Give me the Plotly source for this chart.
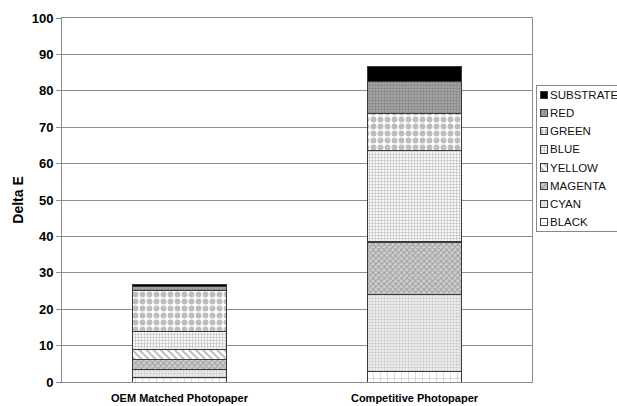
import plotly.graph_objects as go

categories = ["OEM Matched Photopaper", "Competitive Photopaper"]

black = [1.3, 2.8]
cyan = [2.2, 21.2]
magenta = [2.7, 14.2]
yellow = [2.6, 0.5]
blue = [5.2, 25.0]
green = [11.2, 10.2]
red = [1.1, 8.6]
substrate = [0.6, 4.3]

series = [
    ("BLACK", black, dict(shape="+", fgcolor="#7a7a7a", bgcolor="white", size=7, solidity=0.15)),
    ("CYAN", cyan, dict(shape=".", fgcolor="#a0a0a0", bgcolor="#ededed", size=3, solidity=0.4)),
    ("MAGENTA", magenta, dict(shape="x", fgcolor="#6e6e6e", bgcolor="#cfcfcf", size=4, solidity=0.45)),
    ("YELLOW", yellow, dict(shape="\\", fgcolor="#707070", bgcolor="white", size=5, solidity=0.4)),
    ("BLUE", blue, dict(shape="+", fgcolor="#7e7e7e", bgcolor="#f7f7f7", size=3, solidity=0.35)),
    ("GREEN", green, dict(shape=".", fgcolor="#7c7c7c", bgcolor="white", size=7, solidity=0.55)),
    ("RED", red, dict(shape=".", fgcolor="#666666", bgcolor="#aaaaaa", size=3, solidity=0.5)),
    ("SUBSTRATE", substrate, dict(shape="", fgcolor="black", bgcolor="black")),
]

FONT = "Liberation Sans, Arial, sans-serif"


def bar_marker(pat):
    marker = dict(line=dict(color="#3a3a3a", width=1))
    if pat["shape"]:
        marker["color"] = pat["bgcolor"]
        marker["pattern"] = pat
    else:
        marker["color"] = "black"
    return marker


fig = go.Figure()

# stacked columns
for name, vals, pat in series:
    fig.add_trace(go.Bar(name=name, x=categories, y=vals, marker=bar_marker(pat),
                         width=0.4, showlegend=False))

# legend box: small patterned keys on their own axes, labels beside them
annotations = []
for i, (name, vals, pat) in enumerate(series):
    fig.add_trace(go.Bar(
        x=[7], y=[i], base=[3], orientation="h", width=0.4,
        marker=bar_marker(pat), xaxis="x2", yaxis="y2",
        showlegend=False, hoverinfo="skip",
    ))
    annotations.append(dict(
        x=11, y=i, xref="x2", yref="y2", text=name, showarrow=False,
        xanchor="left", yanchor="middle",
        font=dict(size=11.5, family=FONT, color="#111111"),
    ))

plot_w = 470
paper_w = 617 - 62
legend_left = 537 - 62

fig.update_layout(
    barmode="stack",
    width=617,
    height=406,
    margin=dict(l=62, r=0, t=18, b=24, autoexpand=False),
    paper_bgcolor="white",
    plot_bgcolor="white",
    font=dict(family=FONT, color="black"),
    showlegend=False,
    annotations=annotations,
    yaxis=dict(
        range=[0, 100],
        dtick=10,
        showgrid=True,
        gridcolor="#8c8c8c",
        gridwidth=1,
        showline=True,
        linecolor="#8c8c8c",
        mirror=True,
        ticks="outside",
        ticklen=5,
        tickcolor="#8c8c8c",
        tickfont=dict(size=13, family=FONT, weight="bold"),
        title=dict(text="<b>Delta E</b>", font=dict(size=14), standoff=4),
        zeroline=False,
    ),
    xaxis=dict(
        domain=[0, plot_w / paper_w],
        showline=True,
        linecolor="#8c8c8c",
        mirror=True,
        ticks="",
        ticklabelstandoff=6,
        tickfont=dict(size=11, family=FONT, weight="bold"),
    ),
    xaxis2=dict(
        domain=[legend_left / paper_w, 1],
        range=[0, 80],
        anchor="y2",
        showgrid=False, zeroline=False, showticklabels=False, ticks="",
        showline=True, mirror=True, linecolor="#888888",
        fixedrange=True,
    ),
    yaxis2=dict(
        domain=[(382 - 231) / 364, (382 - 86) / 364],
        range=[-0.5, len(series) - 0.5],
        anchor="x2",
        showgrid=False, zeroline=False, showticklabels=False, ticks="",
        showline=True, mirror=True, linecolor="#888888",
        fixedrange=True,
    ),
    bargap=0.6,
)

fig.write_html("out.html")
